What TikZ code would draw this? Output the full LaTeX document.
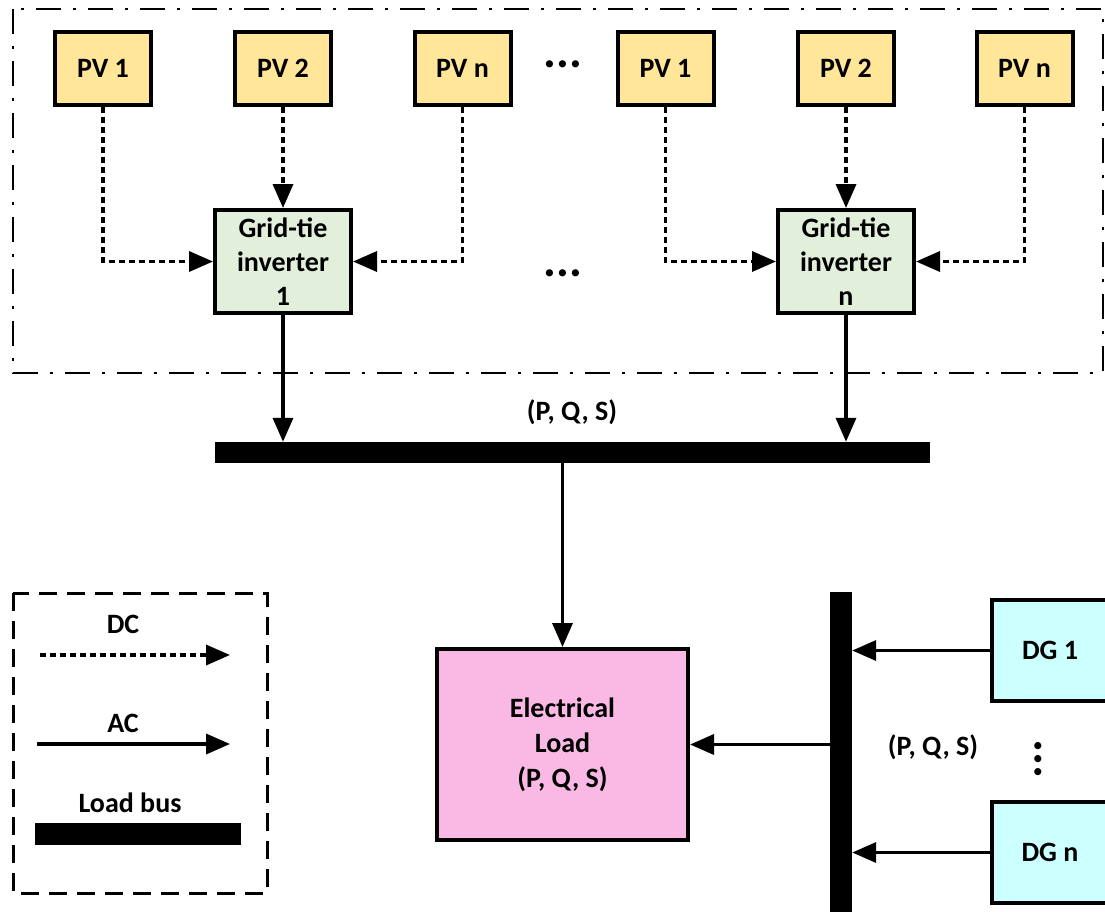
\documentclass[tikz,border=0pt]{standalone}
\usepackage{fontspec}
\setmainfont{Carlito}
\usetikzlibrary{arrows.meta}
\definecolor{pvfill}{RGB}{255,230,153}
\definecolor{invfill}{RGB}{226,239,218}
\definecolor{loadfill}{RGB}{250,185,228}
\definecolor{dgfill}{RGB}{204,255,255}

\begin{document}
\begin{tikzpicture}[x = 1pt, y = -1pt,
  every node/.style = {font=\fontsize{28}{34}\selectfont\bfseries},
  pvbox/.style = {draw, line width=4pt, fill=pvfill, minimum width=96pt, minimum height=73pt, inner sep=0pt},
  invbox/.style = {draw, line width=4pt, fill=invfill, minimum width=136pt, minimum height=103pt, inner sep=0pt, align=center},
  loadbox/.style = {draw, line width=4pt, fill=loadfill, minimum width=251pt, minimum height=191pt, inner sep=0pt, align=center, font=\fontsize{28}{35}\selectfont\bfseries},
  dgbox/.style = {draw, line width=4pt, fill=dgfill, minimum width=116pt, minimum height=101pt, inner sep=0pt},
  busbar/.style = {fill=black, inner sep=0pt},
  dotsmark/.style = {font=\fontsize{48}{48}\selectfont\bfseries, inner sep=0pt},
  dcline/.style = {line width=3.5pt, dash pattern=on 6pt off 4pt, -{Triangle[length=24pt,width=20pt]}},
  acline/.style = {line width=3.5pt, -{Triangle[length=24pt,width=20pt]}},]

\useasboundingbox (0,0) rectangle (1105,911);
\clip (0,0) rectangle (1105,911);

% PV area and legend frames
\draw[line width=2.5pt, dash pattern=on 25pt off 12pt on 3pt off 12pt] (13,9) rectangle (1103,373);
\draw[line width=3pt, dash pattern=on 18pt off 10pt] (13,593) rectangle (267,893);

\node[pvbox] (PVa1) at (103,68.5) {PV 1};
\node[pvbox] (PVa2) at (283,68.5) {PV 2};
\node[pvbox] (PVan) at (462.5,68.5) {PV n};
\node[pvbox] (PVb1) at (665.5,68.5) {PV 1};
\node[pvbox] (PVb2) at (846,68.5) {PV 2};
\node[pvbox] (PVbn) at (1024.5,68.5) {PV n};
\node[dotsmark] (DOTSa) at (563,64) {...};
\node[dotsmark] (DOTSb) at (563,273) {...};

\node[invbox] (INVa) at (283,261.5) {Grid-tie\\inverter\\1};
\node[invbox] (INVb) at (846,261.5) {Grid-tie\\inverter\\n};

\node[busbar, minimum width=715pt, minimum height=21pt] (BUSa) at (572.5,452.5) {};
\node (PQSa) at (572,412) {(P, Q, S)};

\node[loadbox] (LOAD) at (562.5,744.5) {Electrical\\Load\\(P, Q, S)};
\node[busbar, minimum width=22pt, minimum height=323pt] (BUSb) at (841,753.5) {};
\node (PQSb) at (933,747) {(P, Q, S)};
\node[dgbox] (DG1) at (1050,650.5) {DG 1};
\node[dgbox] (DGn) at (1050,852.5) {DG n};
\node[dotsmark, rotate=90] (DOTSc) at (1038,759) {...};

\draw[dcline] (PVa1.south) |- (INVa.west);
\draw[dcline] (PVa2.south) -- (INVa.north);
\draw[dcline] (PVan.south) |- (INVa.east);
\draw[dcline] (PVb1.south) |- (INVb.west);
\draw[dcline] (PVb2.south) -- (INVb.north);
\draw[dcline] (PVbn.south) |- (INVb.east);

\draw[acline] (INVa.south) -- (INVa.south |- BUSa.north);
\draw[acline] (INVb.south) -- (INVb.south |- BUSa.north);
\draw[acline] (BUSa.south -| LOAD.north) -- (LOAD.north);
\draw[acline] (DG1.west) -- (DG1.west -| BUSb.east);
\draw[acline] (DGn.west) -- (DGn.west -| BUSb.east);
\draw[acline] (BUSb.west |- LOAD.east) -- (LOAD.east);

% legend
\node (DCkey) at (123,624) {DC};
\coordinate (DCs) at (40,655);
\coordinate (DCe) at (230,655);
\draw[dcline] (DCs) -- (DCe);
\node (ACkey) at (123,723) {AC};
\coordinate (ACs) at (37,744);
\coordinate (ACe) at (230,744);
\draw[acline] (ACs) -- (ACe);
\node (BUSkeylab) at (130,803) {Load bus};
\node[busbar, minimum width=206pt, minimum height=22pt] (BUSkey) at (138,834) {};

\end{tikzpicture}
\end{document}
